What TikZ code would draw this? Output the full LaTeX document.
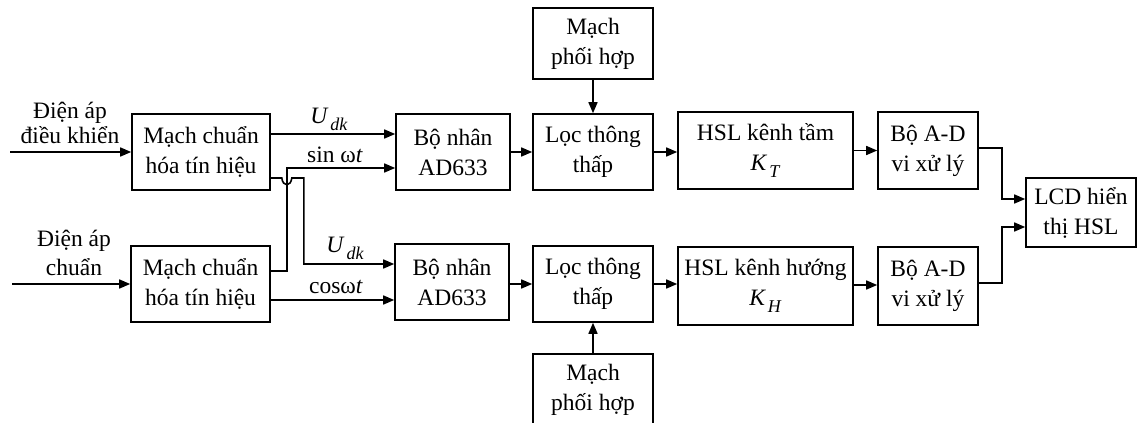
\documentclass[tikz,border=0pt]{standalone}
\usepackage{fontspec}
\setmainfont{Liberation Serif}
\usetikzlibrary{arrows.meta,calc}
% italic symbol with a lowered italic subscript
\newcommand\isub[2]{\textit{#1}\kern2pt\raisebox{-7pt}{\fontsize{18}{18}\selectfont\textit{#2}}}
\begin{document}
\begin{tikzpicture}[x=1pt,y=-1pt,
  blk/.style={draw,line width=1.6pt,minimum width=#1,minimum height=76pt,
    align=center,inner sep=0pt,font=\fontsize{23.5}{30}\selectfont},
  lbl/.style={inner sep=0pt,align=center,font=\fontsize{23.5}{29}\selectfont},
  wire/.style={line width=1.6pt},
  arr/.style={wire,-{Triangle[length=11pt,width=9pt]}},
]
\useasboundingbox (0,0) rectangle (1138,423);

% blocks
\node[blk=138pt] (mc1) at (201,152) {Mạch chuẩn\\hóa tín hiệu};
\node[blk=139pt] (mc2) at (200.5,284) {Mạch chuẩn\\hóa tín hiệu};
\node[blk=114pt] (bn1) at (453,152) {Bộ nhân\\AD633};
\node[blk=114pt] (bn2) at (452,282) {Bộ nhân\\AD633};
\node[blk=120pt] (lt1) at (593,152) {Lọc thông\\thấp};
\node[blk=120pt] (lt2) at (593,284) {Lọc thông\\thấp};
\node[blk=120pt,minimum height=71pt] (mp1) at (593,43.5) {Mạch\\phối hợp};
\node[blk=120pt,minimum height=71pt] (mp2) at (593,389.5) {Mạch\\phối hợp};
\node[blk=175pt,minimum height=77pt] (hs1) at (765.5,150.5) {HSL kênh tầm\\\isub{K}{T}};
\node[blk=175pt,minimum height=78pt] (hs2) at (765.5,286) {HSL kênh hướng\\\isub{K}{H}};
\node[blk=100pt,minimum height=77pt] (ad1) at (928,150.5) {Bộ A-D\\vi xử lý};
\node[blk=100pt,minimum height=78pt] (ad2) at (928,286) {Bộ A-D\\vi xử lý};
\node[blk=110pt,minimum height=69pt] (lcd) at (1081,212.5) {LCD hiển\\thị HSL};

% input labels and inputs
\node[lbl,font=\fontsize{23.5}{25}\selectfont] (in1t) at (70,123) {Điện áp\\điều khiển};
\node[lbl] (in2t) at (74,253) {Điện áp\\chuẩn};
\coordinate (in1) at (10,152);
\coordinate (in2) at (12,284);
\draw[arr] (in1) -- (mc1.west);
\draw[arr] (in2) -- (mc2.west);

% signal lines into the multipliers
\draw[arr] ($(mc1.east)+(0,-18)$) coordinate (a1) -- (a1 -| bn1.west);
\draw[arr] ($(mc2.east)+(0,-13)$) coordinate (a2) -- ++(16,0) |- ($(bn1.west)+(0,16)$);
\draw[arr] ($(mc1.east)+(0,26)$) coordinate (a3) -- ++(11,0)
  .. controls ++(1,9) and ++(-1,9) .. ++(10,0) -- ++(12,0) |- ($(bn2.west)+(0,-18)$);
\draw[arr] ($(mc2.east)+(0,16)$) coordinate (a4) -- (a4 -| bn2.west);

\node[lbl] (l1) at (329,119) {\isub{U}{dk}};
\node[lbl] (l2) at (335,155) {sin ω\textit{t}};
\node[lbl] (l3) at (345,248) {\isub{U}{dk}};
\node[lbl] (l4) at (336,287) {cosω\textit{t}};

% main chain
\draw[arr] (bn1.east |- lt1) -- (lt1.west);
\draw[arr] (bn2.east |- lt2) -- (lt2.west);
\draw[arr] (lt1.east) -- (lt1.east -| hs1.west);
\draw[arr] (lt2.east) -- (lt2.east -| hs2.west);
\draw[arr] (hs1.east) -- (ad1.west);
\draw[arr] ($(hs2.east)+(0,-1)$) coordinate (b2) -- (b2 -| ad2.west);
\draw[arr] (mp1.south) -- (lt1.north);
\draw[arr] (mp2.north) -- (lt2.south);

% outputs to the display
\draw[arr] ($(ad1.east)+(0,-2.5)$) -- ++(23,0) |- ($(lcd.west)+(0,-13.5)$);
\draw[arr] ($(ad2.east)+(0,-3)$) -- ++(23,0) |- ($(lcd.west)+(0,14.5)$);
\end{tikzpicture}
\end{document}
